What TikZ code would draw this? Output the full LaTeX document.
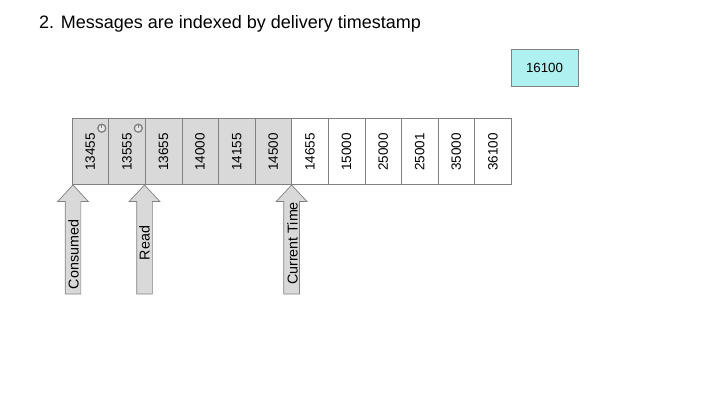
\documentclass[tikz,border=0pt]{standalone}
\usepackage{fontspec}
\setmainfont{Liberation Sans}
\usetikzlibrary{positioning,shapes.arrows}
\definecolor{cellgray}{HTML}{D9D9D9}
\definecolor{edgegray}{HTML}{808080}
\definecolor{timercyan}{HTML}{AFF1F1}
\newcommand{\celltext}[1]{\rotatebox{90}{#1\hspace{2pt}}}
\tikzset{
  msgcell/.style={draw=edgegray,fill=#1,minimum width=36.6pt,minimum height=66pt,inner sep=0pt,outer sep=0pt,font=\fontsize{13.5}{15}\selectfont},
  msgcell/.default=white,
  timerbox/.style={draw=edgegray,fill=timercyan,minimum width=67pt,minimum height=37pt,inner sep=0pt,font=\fontsize{13.3}{15}\selectfont},
  pointer/.style={draw=edgegray,line width=0.7pt,fill=cellgray,single arrow,anchor=tip,rotate=90,minimum height=109pt,minimum width=30pt,
    single arrow head extend=7.5pt,single arrow tip angle=86,single arrow head indent=0pt,inner xsep=0pt,inner ysep=7.5pt,outer sep=0pt},
  pointerlabel/.style={rotate=90,inner sep=0pt,font=\fontsize{14.3}{16}\selectfont},
  clockicon/.style={circle,draw=edgegray,line width=1.3pt,fill=cellgray!60,minimum size=8pt,inner sep=0pt,outer sep=0pt},
}
\begin{document}
\begin{tikzpicture}[x=1pt,y=-1pt]
\useasboundingbox (0,0) rectangle (720,405);
\node[anchor=base west,inner sep=0pt,font=\fontsize{18}{22}\selectfont] (title) at (39,28) {2. Messages are indexed by delivery timestamp};
\node[timerbox] (timer) at (544.5,67.5) {16100};
% consumed and read part of the log
\node[msgcell=cellgray,anchor=north west] (c1) at (72,118) {\celltext{13455}};
\node[msgcell=cellgray,right=0pt of c1] (c2) {\celltext{13555}};
\node[msgcell=cellgray,right=0pt of c2] (c3) {\celltext{13655}};
\node[msgcell=cellgray,right=0pt of c3] (c4) {\celltext{14000}};
\node[msgcell=cellgray,right=0pt of c4] (c5) {\celltext{14155}};
\node[msgcell=cellgray,right=0pt of c5] (c6) {\celltext{14500}};
% rest of the log
\node[msgcell,right=0pt of c6] (c7) {\celltext{14655}};
\node[msgcell,right=0pt of c7] (c8) {\celltext{15000}};
\node[msgcell,right=0pt of c8] (c9) {\celltext{25000}};
\node[msgcell,right=0pt of c9] (c10) {\celltext{25001}};
\node[msgcell,right=0pt of c10] (c11) {\celltext{35000}};
\node[msgcell,right=0pt of c11] (c12) {\celltext{36100}};
% timers
\node[clockicon] (clock1) at ([xshift=-6.8pt,yshift=-10.2pt]c1.north east) {};
\node[clockicon] (clock2) at ([xshift=-6.9pt,yshift=-10.2pt]c2.north east) {};
\draw[edgegray,line width=1pt] (clock1.center) -- (clock1.north);
\draw[edgegray,line width=1pt] (clock2.center) -- (clock2.north);
% pointers
\node[pointer] (consumed) at ([xshift=1pt,yshift=-1pt]c1.south west) {};
\node[pointer] (read) at ([xshift=-0.7pt,yshift=-1pt]c3.south west) {};
\node[pointer] (current) at ([yshift=-1pt]c7.south west) {};
\node[pointerlabel] (consumedtext) at (73.5,254.5) {Consumed};
\node[pointerlabel] (readtext) at (144.5,243) {Read};
\node[pointerlabel] (currenttext) at (292.5,243.5) {Current Time};
\end{tikzpicture}
\end{document}
